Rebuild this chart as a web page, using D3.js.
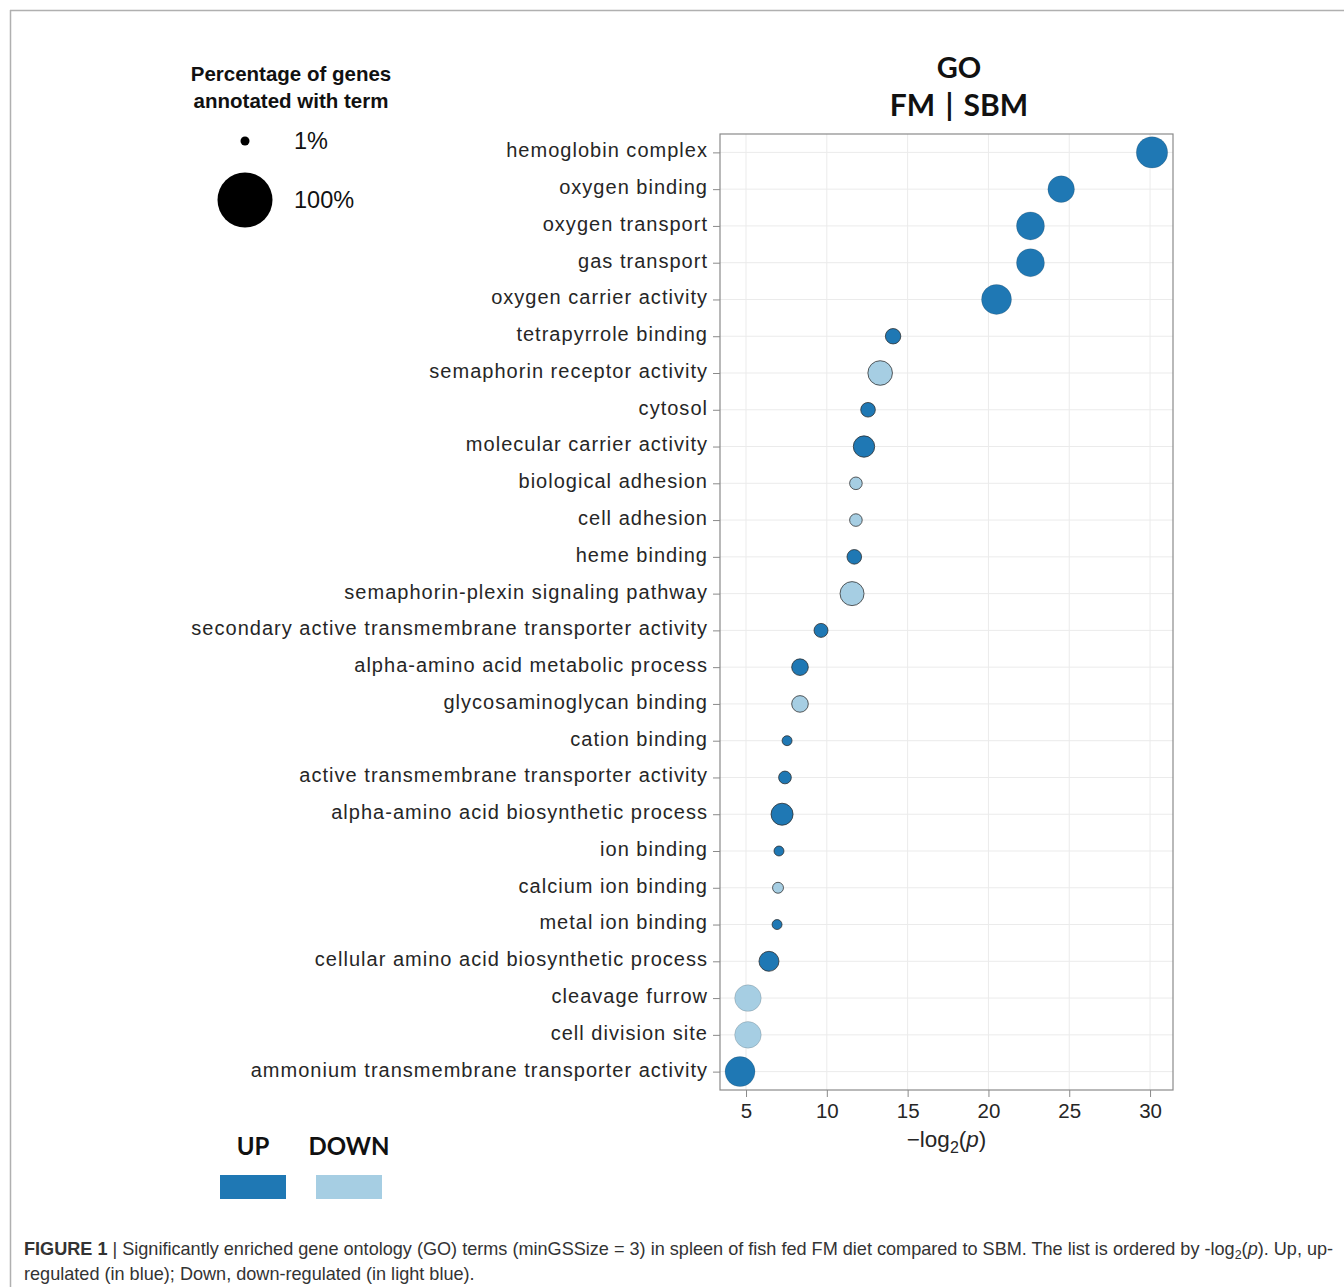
<!DOCTYPE html>
<html>
<head>
<meta charset="utf-8">
<script src="https://cdn.jsdelivr.net/npm/d3@7"></script>
<style>
  html, body { margin: 0; padding: 0; background: #fff; }
  svg { display: block; }
</style>
</head>
<body>
<svg id="fig" width="1344" height="1287"></svg>
<script>
// GO enrichment terms, ordered by -log2(p)
const terms = [
  "hemoglobin complex", "oxygen binding", "oxygen transport", "gas transport",
  "oxygen carrier activity", "tetrapyrrole binding", "semaphorin receptor activity",
  "cytosol", "molecular carrier activity", "biological adhesion", "cell adhesion",
  "heme binding", "semaphorin-plexin signaling pathway",
  "secondary active transmembrane transporter activity",
  "alpha-amino acid metabolic process", "glycosaminoglycan binding", "cation binding",
  "active transmembrane transporter activity", "alpha-amino acid biosynthetic process",
  "ion binding", "calcium ion binding", "metal ion binding",
  "cellular amino acid biosynthetic process", "cleavage furrow", "cell division site",
  "ammonium transmembrane transporter activity"
];
const negLog2P = [
  30.12, 24.5, 22.6, 22.6, 20.5, 14.1, 13.3, 12.55, 12.3, 11.8, 11.8, 11.7, 11.56,
  9.64, 8.34, 8.34, 7.54, 7.41, 7.23, 7.04, 6.98, 6.92, 6.42, 5.12, 5.12, 4.63
];
// percentage of genes annotated with term
const pctAnnotated = [
  29.0, 19.7, 22.3, 22.3, 26.1, 5.1, 16.4, 4.4, 11.7, 2.9, 2.9, 4.4, 15.5,
  3.9, 6.2, 6.2, 1.4, 3.0, 12.6, 1.4, 1.9, 1.4, 9.9, 19.7, 19.7, 26.1
];
const direction = [
  "UP", "UP", "UP", "UP", "UP", "UP", "DOWN", "UP", "UP", "DOWN", "DOWN", "UP", "DOWN",
  "UP", "UP", "DOWN", "UP", "UP", "UP", "UP", "DOWN", "UP", "UP", "DOWN", "DOWN", "UP"
];
const xTicks = [5, 10, 15, 20, 25, 30];
const sizeLegend = [1, 100];
const dirLevels = ["UP", "DOWN"];

const data = terms.map((t, i) => ({
  term: t, x: negLog2P[i], pct: pctAnnotated[i], dir: direction[i]
}));

const svg = d3.select("#fig");
const W = 1344, H = 1287;

// figure frame
svg.append("line").attr("x1", 10).attr("x2", W).attr("y1", 10.5).attr("y2", 10.5)
  .attr("stroke", "#b0b0b0").attr("stroke-width", 1.5);
svg.append("line").attr("x1", 10.5).attr("x2", 10.5).attr("y1", 10).attr("y2", H)
  .attr("stroke", "#b0b0b0").attr("stroke-width", 1.5);

const panel = { left: 720, right: 1173, top: 134, bottom: 1090 };

const x = d3.scaleLinear().domain([3.39, 31.42]).range([panel.left, panel.right]);
const y = d3.scalePoint().domain(terms).range([panel.top, panel.bottom]).padding(0.5);
const r = d3.scaleSqrt().domain([1, 100]).range([4.5, 27.5]);
const color = d3.scaleOrdinal().domain(dirLevels).range(["#1f78b4", "#a6cee3"]);

const g = svg.append("g");

// grid
g.append("g").selectAll("line").data(xTicks).join("line")
  .attr("x1", d => x(d)).attr("x2", d => x(d))
  .attr("y1", panel.top).attr("y2", panel.bottom)
  .attr("stroke", "#ebebeb").attr("stroke-width", 1);
g.append("g").selectAll("line").data(terms).join("line")
  .attr("x1", panel.left).attr("x2", panel.right)
  .attr("y1", d => y(d)).attr("y2", d => y(d))
  .attr("stroke", "#ebebeb").attr("stroke-width", 1);

// points
g.append("g").selectAll("circle").data(data).join("circle")
  .attr("cx", d => x(d.x)).attr("cy", d => y(d.term))
  .attr("r", d => r(d.pct))
  .attr("fill", d => color(d.dir))
  .attr("stroke", "#2a2a2a")
  .attr("stroke-opacity", d => r(d.pct) > 12.8 ? 0.18 : 0.75)
  .attr("stroke-width", 1);

// panel border
g.append("rect")
  .attr("x", panel.left).attr("y", panel.top)
  .attr("width", panel.right - panel.left).attr("height", panel.bottom - panel.top)
  .attr("fill", "none").attr("stroke", "#8a8a8a").attr("stroke-width", 1.2);

// y axis
const yAxis = d3.axisLeft(y).tickSize(7).tickPadding(5);
const ya = g.append("g").attr("transform", `translate(${panel.left},0)`).call(yAxis);
ya.select(".domain").remove();
ya.selectAll(".tick line").attr("stroke", "#8a8a8a");
ya.selectAll(".tick text")
  .attr("fill", "#262626")
  .attr("dy", "0.22em")
  .style("font-family", "'Liberation Sans', Arial, sans-serif")
  .style("font-size", "20px")
  .style("letter-spacing", "1.02px");

// x axis
const xAxis = d3.axisBottom(x).tickValues(xTicks).tickSize(7).tickPadding(6);
const xa = g.append("g").attr("transform", `translate(0,${panel.bottom})`).call(xAxis);
xa.select(".domain").remove();
xa.selectAll(".tick line").attr("stroke", "#8a8a8a");
xa.selectAll(".tick text")
  .attr("fill", "#262626")
  .style("font-family", "'Liberation Sans', Arial, sans-serif")
  .style("font-size", "20.5px");

// x axis title
const xt = svg.append("text")
  .attr("x", (panel.left + panel.right) / 2).attr("y", 1147)
  .attr("text-anchor", "middle")
  .attr("fill", "#262626")
  .style("font-family", "'Liberation Sans', Arial, sans-serif")
  .style("font-size", "22.5px");
xt.append("tspan").text("\u2212log");
xt.append("tspan").attr("dy", 6).style("font-size", "16px").text("2");
xt.append("tspan").attr("dy", -6).text("(");
xt.append("tspan").style("font-style", "italic").text("p");
xt.append("tspan").text(")");

// title
const titleFont = "Lato, 'Open Sans', sans-serif";
svg.append("text").attr("x", 959).attr("y", 78).attr("text-anchor", "middle")
  .style("font-family", titleFont).style("font-weight", "bold").style("font-size", "29px")
  .attr("fill", "#111").text("GO");
svg.append("text").attr("x", 959).attr("y", 116).attr("text-anchor", "middle")
  .style("font-family", titleFont).style("font-weight", "bold").style("font-size", "30px")
  .style("word-spacing", "3px")
  .attr("fill", "#111").text("FM | SBM");

// size legend
const sl = svg.append("g");
const legFont = "'Liberation Sans', Arial, sans-serif";
sl.append("text").attr("x", 291).attr("y", 81).attr("text-anchor", "middle")
  .style("font-family", legFont).style("font-weight", "bold")
  .style("font-size", "20.5px").attr("fill", "#111").text("Percentage of genes");
sl.append("text").attr("x", 291).attr("y", 108).attr("text-anchor", "middle")
  .style("font-family", legFont).style("font-weight", "bold")
  .style("font-size", "20.5px").attr("fill", "#111").text("annotated with term");
const legendY = d3.scaleOrdinal().domain(sizeLegend).range([141, 200]);
sl.selectAll("circle").data(sizeLegend).join("circle")
  .attr("cx", 245).attr("cy", d => legendY(d)).attr("r", d => r(d)).attr("fill", "#000");
sl.selectAll("text.lab").data(sizeLegend).join("text").attr("class", "lab")
  .attr("x", 294).attr("y", d => legendY(d) + 8)
  .style("font-family", legFont).style("font-size", "23.5px")
  .attr("fill", "#111").text(d => d + "%");

// direction legend
const dl = svg.append("g");
const dirX = d3.scaleOrdinal().domain(dirLevels).range([220, 316]);
dl.selectAll("rect").data(dirLevels).join("rect")
  .attr("x", d => dirX(d)).attr("y", 1175).attr("width", 66).attr("height", 24)
  .attr("fill", d => color(d));
dl.selectAll("text").data(dirLevels).join("text")
  .attr("x", d => dirX(d) + 33).attr("y", 1155).attr("text-anchor", "middle")
  .style("font-family", titleFont).style("font-weight", "bold").style("font-size", "24px")
  .attr("fill", "#111").text(d => d);

// caption
const capFont = "'Liberation Sans Narrow', 'Liberation Sans', Arial, sans-serif";
const c1 = svg.append("text").attr("x", 24).attr("y", 1255)
  .style("font-family", capFont).style("font-size", "18.1px").attr("fill", "#333");
c1.append("tspan").style("font-weight", "bold").text("FIGURE 1");
c1.append("tspan").text(" | Significantly enriched gene ontology (GO) terms (minGSSize = 3) in spleen of fish fed FM diet compared to SBM. The list is ordered by -log");
c1.append("tspan").attr("dy", 4).style("font-size", "12.5px").text("2");
c1.append("tspan").attr("dy", -4).text("(");
c1.append("tspan").style("font-style", "italic").text("p");
c1.append("tspan").text("). Up, up-");
svg.append("text").attr("x", 24).attr("y", 1280)
  .style("font-family", capFont).style("font-size", "18.1px").attr("fill", "#333")
  .text("regulated (in blue); Down, down-regulated (in light blue).");
</script>
</body>
</html>
